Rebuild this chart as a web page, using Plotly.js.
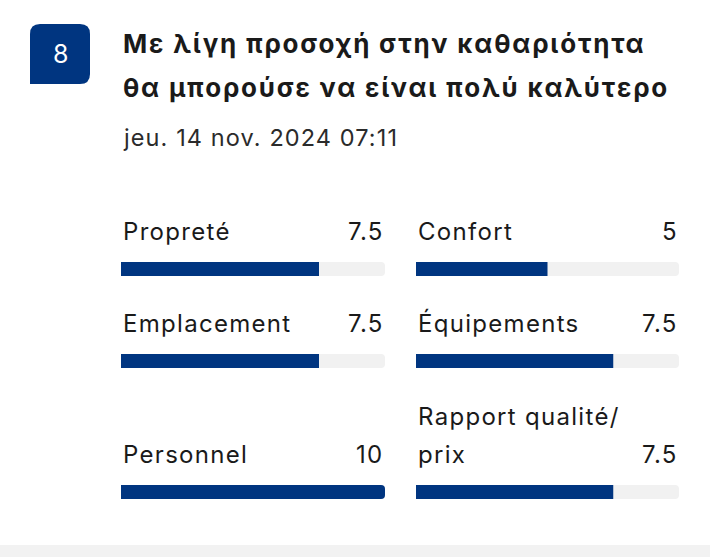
<!DOCTYPE html>
<html>
<head>
<meta charset="utf-8">
<script src="https://cdn.plot.ly/plotly-3.0.1.min.js"></script>
<style>
  html, body { margin: 0; padding: 0; background: #ffffff; }
  #chart { width: 710px; height: 557px; }
</style>
</head>
<body>
<div id="chart"></div>
<script>
// ---- data ----
const overallScore = 8;
const titleLines = ['Με λίγη προσοχή στην καθαριότητα', 'θα μπορούσε να είναι πολύ καλύτερο'];
const reviewDate = 'jeu. 14 nov. 2024 07:11';
const categories = ['Propreté', 'Confort', 'Emplacement', 'Équipements', 'Personnel', 'Rapport qualité/<br>prix'];
const scores = [7.5, 5, 7.5, 7.5, 10, 7.5];
const maxScore = 10;

// ---- styling ----
const BLUE = '#003580';
const TRACK = '#f1f1f1';
const TEXT = '#1a1a1a';
const FONT = 'Inter, Roboto, "Noto Sans", sans-serif';
const W = 710, H = 557;
const px = v => v / W;
const py = v => 1 - v / H;
const track = (s, ls) => `<span style="letter-spacing:${ls}px">${s}</span>`;

const colDomains = [[px(121), px(385)], [px(416), px(679)]];
const rowBars = [[262, 276], [354, 368], [485, 499]];

const traces = [];
const annotations = [];
const layout = {
  width: W, height: H,
  margin: {l: 0, r: 0, t: 0, b: 0},
  paper_bgcolor: '#ffffff',
  plot_bgcolor: 'rgba(0,0,0,0)',
  barmode: 'overlay',
  showlegend: false,
  hovermode: false,
  font: {family: FONT, color: TEXT},
  shapes: [],
  annotations: annotations
};

colDomains.forEach((d, c) => {
  const name = c === 0 ? 'xaxis' : 'xaxis' + (c + 1);
  layout[name] = {domain: d, range: [0, maxScore], visible: false, fixedrange: true, anchor: 'y'};
});
rowBars.forEach((r, k) => {
  const name = k === 0 ? 'yaxis' : 'yaxis' + (k + 1);
  layout[name] = {domain: [py(r[1]), py(r[0])], range: [-0.5, 0.5], visible: false, fixedrange: true, anchor: 'x'};
});

const LABEL_SIZE = 24, LABEL_LS = 1.3, LINE_GAP = 38, LABEL_SHIFT = 14;
categories.forEach((cat, i) => {
  const c = i % 2, r = Math.floor(i / 2);
  const xa = c === 0 ? 'x' : 'x' + (c + 1);
  const ya = r === 0 ? 'y' : 'y' + (r + 1);
  traces.push({
    type: 'bar', orientation: 'h', x: [maxScore], y: [0], width: [1],
    xaxis: xa, yaxis: ya, marker: {color: TRACK, cornerradius: 4},
    hoverinfo: 'skip'
  });
  traces.push({
    type: 'bar', orientation: 'h', x: [scores[i]], y: [0], width: [1],
    xaxis: xa, yaxis: ya, marker: {color: BLUE, cornerradius: 4},
    hoverinfo: 'skip'
  });
  const lines = cat.split('<br>');
  lines.forEach((ln, j) => {
    annotations.push({
      xref: xa + ' domain', yref: ya + ' domain', x: 0, y: 1,
      xanchor: 'left', yanchor: 'bottom', yshift: LABEL_SHIFT + (lines.length - 1 - j) * LINE_GAP, align: 'left',
      text: track(ln, LABEL_LS), showarrow: false,
      font: {size: LABEL_SIZE, color: TEXT, family: FONT}
    });
  });
  annotations.push({
    xref: xa + ' domain', yref: ya + ' domain', x: 1, y: 1,
    xanchor: 'right', yanchor: 'bottom', yshift: LABEL_SHIFT, xshift: 1, align: 'right',
    text: track(String(scores[i]), LABEL_LS), showarrow: false,
    font: {size: LABEL_SIZE, color: TEXT, family: FONT}
  });
});

// badge
const bx0 = px(30), bx1 = px(90), by0 = py(84), by1 = py(24);
const rx = 10 / W, ry = 10 / H;
layout.shapes.push({
  type: 'path', xref: 'paper', yref: 'paper', layer: 'above',
  path: `M ${bx0} ${by0} L ${bx1 - rx} ${by0} Q ${bx1} ${by0} ${bx1} ${by0 + ry} L ${bx1} ${by1 - ry} Q ${bx1} ${by1} ${bx1 - rx} ${by1} L ${bx0 + rx} ${by1} Q ${bx0} ${by1} ${bx0} ${by1 - ry} Z`,
  fillcolor: BLUE, line: {width: 0}
});
annotations.push({
  xref: 'paper', yref: 'paper', x: px(60), y: py(54), xanchor: 'center', yanchor: 'middle',
  text: String(overallScore), showarrow: false,
  font: {size: 25, color: '#ffffff', family: FONT}
});
// title
titleLines.forEach((t, k) => {
  annotations.push({
    xref: 'paper', yref: 'paper', x: px(121), y: py(44 + 44 * k), xanchor: 'left', yanchor: 'middle',
    text: track(t, 1.8), showarrow: false,
    font: {size: 26, color: TEXT, family: FONT, weight: 700}
  });
});
annotations.push({
  xref: 'paper', yref: 'paper', x: px(121), y: py(137), xanchor: 'left', yanchor: 'middle',
  text: track(reviewDate, 1.1), showarrow: false,
  font: {size: 23.5, color: '#2b2b2b', family: FONT}
});
// bottom strip
layout.shapes.push({
  type: 'rect', xref: 'paper', yref: 'paper', x0: 0, x1: 1, y0: 0, y1: 12 / H,
  fillcolor: '#f2f2f2', line: {width: 0}, layer: 'below'
});

Plotly.newPlot('chart', traces, layout, {staticPlot: true, displayModeBar: false});
</script>
</body>
</html>
